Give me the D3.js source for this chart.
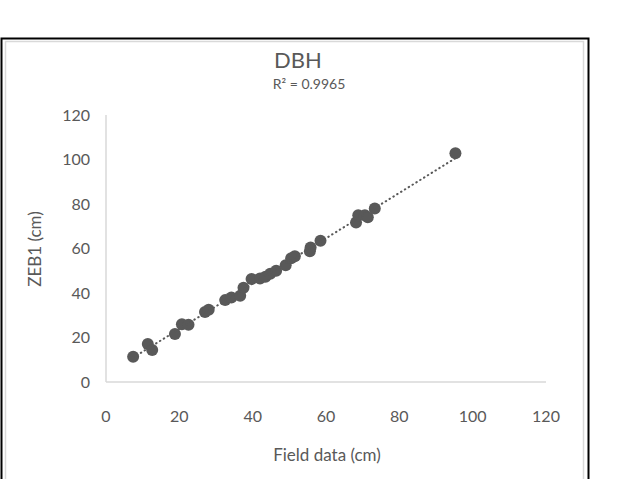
<!DOCTYPE html>
<html>
<head>
<meta charset="utf-8">
<script src="https://cdn.jsdelivr.net/npm/d3@7"></script>
<style>
 body{margin:0;background:#fff;}
 svg text{font-family:Lato,"Open Sans",sans-serif;fill:#595959;}
</style>
</head>
<body>
<div id="chart"></div>
<script>
// Values
var fieldData = [7.4,11.4,12.6,18.8,20.7,22.5,27,28,32.5,34.2,36.6,37.5,39.7,42,43.5,44.8,46.4,49,50.5,51.5,55.6,55.8,58.5,68.2,68.8,70.6,71.4,73.3,95.3];
var zebData   = [11.3,17.1,14.4,21.6,26,25.7,31.5,32.5,36.8,38,38.8,42.4,46.3,46.5,47.3,48.7,50,52.5,55.6,56.5,58.8,60.5,63.5,71.7,74.9,74.9,74,78,102.8];
var xTicks = [0,20,40,60,80,100,120];
var yTicks = [0,20,40,60,80,100,120];
var chartTitle = "DBH";
var r2Label = "R² = 0.9965";

var W = 637, H = 479;
var svg = d3.select("#chart").append("svg").attr("width",W).attr("height",H);

// frame (outer black, inner grey)
svg.append("rect").attr("x",1.5).attr("y",38.5).attr("width",587).attr("height",460)
 .attr("fill","none").attr("stroke","#000").attr("stroke-width",2);
svg.append("rect").attr("x",5.5).attr("y",41.5).attr("width",578).attr("height",460)
 .attr("fill","none").attr("stroke","#d9d9d9").attr("stroke-width",1.5);

var xScale = d3.scaleLinear().domain([0,120]).range([106,546]);
var yScale = d3.scaleLinear().domain([0,120]).range([382,115]);

// axes
svg.append("line").attr("x1",xScale(0)).attr("x2",xScale(120)).attr("y1",yScale(0)).attr("y2",yScale(0))
 .attr("stroke","#d9d9d9").attr("stroke-width",1.5);
svg.append("line").attr("x1",xScale(0)).attr("x2",xScale(0)).attr("y1",yScale(0)).attr("y2",yScale(120))
 .attr("stroke","#d9d9d9").attr("stroke-width",1.5);

svg.selectAll(".xt").data(xTicks).enter().append("text")
 .attr("x",function(d){return xScale(d);}).attr("y",422)
 .attr("text-anchor","middle").style("font-size","16px").text(function(d){return d;});
svg.selectAll(".yt").data(yTicks).enter().append("text")
 .attr("x",90).attr("y",function(d){return yScale(d)+5.5;})
 .attr("text-anchor","end").style("font-size","16px").text(function(d){return d;});

// titles
svg.append("text").attr("x",298).attr("y",68).attr("text-anchor","middle").style("font-size","22px").text(chartTitle);
svg.append("text").attr("x",309).attr("y",89).attr("text-anchor","middle").style("font-size","14px").text(r2Label);
svg.append("text").attr("x",327).attr("y",461).attr("text-anchor","middle").style("font-size","17px").text("Field data (cm)");
svg.append("text").attr("transform","translate(41,249)rotate(-90)").attr("text-anchor","middle").style("font-size","17px").text("ZEB1 (cm)");

// points
var pts = fieldData.map(function(d,i){return {x:d,y:zebData[i]};});
svg.selectAll(".dot").data(pts).enter().append("circle")
 .attr("cx",function(d){return xScale(d.x);}).attr("cy",function(d){return yScale(d.y);})
 .attr("r",6).attr("fill","#595959");

// linear trendline (least squares)
var mx = d3.mean(fieldData), my = d3.mean(zebData);
var sxy = d3.sum(pts,function(d){return (d.x-mx)*(d.y-my);});
var sxx = d3.sum(pts,function(d){return (d.x-mx)*(d.x-mx);});
var slope = sxy/sxx, icpt = my - slope*mx;
var ext = d3.extent(fieldData);
svg.append("path").datum(ext.map(function(x){return {x:x,y:icpt+slope*x};}))
 .attr("d",d3.line().x(function(d){return xScale(d.x);}).y(function(d){return yScale(d.y);}))
 .attr("fill","none").attr("stroke","#595959").attr("stroke-width",2)
 .attr("stroke-dasharray","0.5 4").attr("stroke-linecap","round");
</script>
</body>
</html>
